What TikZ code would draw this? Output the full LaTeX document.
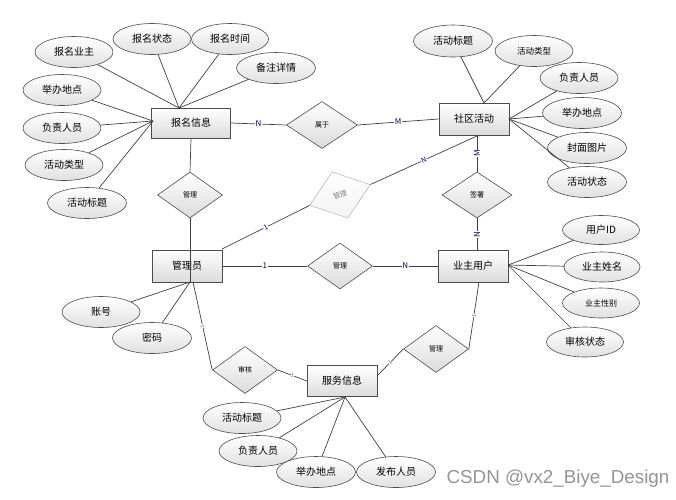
\documentclass[tikz,border=0pt]{standalone}
\usepackage{fontspec}
\setmainfont{Noto Sans CJK SC}
\newfontfamily\wmfont{Liberation Sans}
\usetikzlibrary{shapes.geometric}
\begin{document}
\begin{tikzpicture}[x=1pt,y=-1pt,
  ent/.style={draw=black!70, line width=0.9pt, top color=white, bottom color=black!14,
    minimum width=70pt, minimum height=31pt, inner sep=0pt, font=\fontsize{10}{11}\selectfont},
  attr/.style={ellipse, draw=black!70, line width=0.6pt, top color=white, bottom color=black!12,
    minimum width=78pt, minimum height=31pt, inner sep=0pt, font=\fontsize{10}{11}\selectfont},
  rel/.style={diamond, draw=black!70, line width=0.6pt, top color=white, bottom color=black!14,
    minimum width=65pt, minimum height=46pt, inner sep=0pt, font=\fontsize{7}{8}\selectfont},
  conn/.style={draw=black!75, line width=0.7pt},
  lab/.style={font=\fontsize{8}{8}\selectfont, text=blue!35!black, fill=white, inner sep=0.6pt},
  tick/.style={font=\fontsize{5}{5}\selectfont, text=black!70, fill=white, inner sep=0.3pt, sloped}
]
\useasboundingbox (0,0) rectangle (676,499);

% entities
\node[ent, minimum width=79pt, minimum height=30pt] (bm) at (191,123) {报名信息};
\node[ent, minimum height=32pt] (sq) at (474,119) {社区活动};
\node[ent, minimum height=32pt] (gly) at (187,266) {管理员};
\node[ent, minimum height=32pt] (yz) at (473,266) {业主用户};
\node[ent] (fw) at (342,381) {服务信息};

% relationships
\node[rel, minimum width=71pt, minimum height=47pt] (sy) at (322,125) {属于};
\node[rel] (gl1) at (190,195) {管理};
\node[rel, rotate=19, draw=black!28, bottom color=black!5, text=black!50,
  minimum width=64pt, minimum height=49pt] (glg) at (340,195) {管理};
\node[rel, minimum width=70pt] (qs) at (477,195) {签署};
\node[rel] (gl2) at (340,266) {管理};
\node[rel, minimum height=47pt] (sh) at (245,370) {审核};
\node[rel, minimum height=47pt] (gl3) at (436,349) {管理};

% anchor points on entity borders
\coordinate (bmT) at (179,108);
\coordinate (bmL) at (153,121);
\coordinate (sqT) at (484,103);
\coordinate (sqR) at (509,119);
\coordinate (sqB) at (477,135);
\coordinate (sqBL) at (477,136);
\coordinate (yzR) at (508,265);
\coordinate (yzT) at (477,250);
\coordinate (yzB) at (479,282);
\coordinate (glyB) at (190,282);
\coordinate (glyB2) at (193,282);
\coordinate (glyTR) at (222,249);
\coordinate (fwB) at (345,397);
\coordinate (fwL) at (307,381);
\coordinate (fwR) at (377,376);

% attributes of 报名信息
\node[attr] (a1) at (74,52) {报名业主};
\node[attr] (a2) at (152,39) {报名状态};
\node[attr, minimum width=77pt] (a3) at (230,39) {报名时间};
\node[attr, minimum width=79pt] (a4) at (276,68) {备注详情};
\node[attr] (a5) at (62,90) {举办地点};
\node[attr] (a6) at (62,128) {负责人员};
\node[attr] (a7) at (64,165) {活动类型};
\node[attr, minimum width=79pt] (a8) at (87,203) {活动标题};
\foreach \n in {a1,a2,a3,a4} \draw[conn] (\n) -- (bmT);
\foreach \n in {a5,a6,a7,a8} \draw[conn] (\n) -- (bmL);

% attributes of 社区活动
\node[attr, minimum width=79pt, minimum height=32pt] (b1) at (453,41) {活动标题};
\node[attr, font=\fontsize{8.5}{9}\selectfont] (b2) at (534,51) {活动类型};
\node[attr] (b3) at (579,78) {负责人员};
\node[attr, minimum width=79pt] (b4) at (582,113) {举办地点};
\node[attr, minimum width=79pt] (b5) at (587,148) {封面图片};
\node[attr, minimum width=79pt] (b6) at (587,182) {活动状态};
\foreach \n in {b1,b2} \draw[conn] (\n) -- (sqT);
\foreach \n in {b3,b4,b5,b6} \draw[conn] (\n) -- (sqR);

% attributes of 业主用户
\node[attr, minimum width=77pt, minimum height=29pt] (c1) at (601,230) {用户ID};
\node[attr, minimum width=76pt, minimum height=30pt] (c2) at (602,267) {业主姓名};
\node[attr, minimum width=77pt, minimum height=30pt, font=\fontsize{8}{9}\selectfont] (c3) at (601,303) {业主性别};
\node[attr, minimum width=77pt, minimum height=30pt] (c4) at (585,342) {审核状态};
\foreach \n in {c1,c2,c3,c4} \draw[conn] (\n) -- (yzR);

% attributes of 管理员
\node[attr] (d1) at (101,312) {账号};
\node[attr, minimum width=79pt] (d2) at (152,338) {密码};
\foreach \n in {d1,d2} \draw[conn] (\n) -- (glyB);

% attributes of 服务信息
\node[attr] (e1) at (242,418) {活动标题};
\node[attr] (e2) at (258,451) {负责人员};
\node[attr, minimum width=79pt] (e3) at (316,472) {举办地点};
\node[attr, minimum width=79pt] (e4) at (396,472) {发布人员};
\foreach \n in {e1,e2,e3,e4} \draw[conn] (\n) -- (fwB);

% relationship connectors
\draw[conn] (bm.east) -- node[lab]{N} (sy.west);
\draw[conn] (sy.east) -- node[lab]{M} (sq.west);
\draw[conn] (bm.south) -- (gl1.north);
\draw[conn] (gl1.south) -- (glyB);
\draw[conn] (glyTR) -- node[lab, sloped, font=\fontsize{7}{7}\selectfont]{1} (glg.west);
\draw[conn] (glg.east) -- node[lab, sloped, font=\fontsize{7}{7}\selectfont]{N} (sqBL);
\draw[conn] (sqB) -- node[lab, rotate=90]{M} (qs.north);
\draw[conn] (qs.south) -- node[lab, rotate=90]{N} (yzT);
\draw[conn] (gly.east) -- node[lab]{1} (gl2.west);
\draw[conn] (gl2.east) -- node[lab]{N} (yz.west);
\draw[conn] (glyB2) -- node[tick]{1} (sh.west);
\draw[conn] (sh.east) -- node[tick]{1} (fwL);
\draw[conn] (fwR) -- node[tick]{1} (gl3.west);
\draw[conn] (gl3.east) -- node[tick]{1} (yzB);

% watermark
\node[font=\wmfont\fontsize{18.8}{19}\selectfont, text=black!42, inner sep=0pt] (wm) at (558,479) {CSDN @vx2\_Biye\_Design};
\end{tikzpicture}
\end{document}
